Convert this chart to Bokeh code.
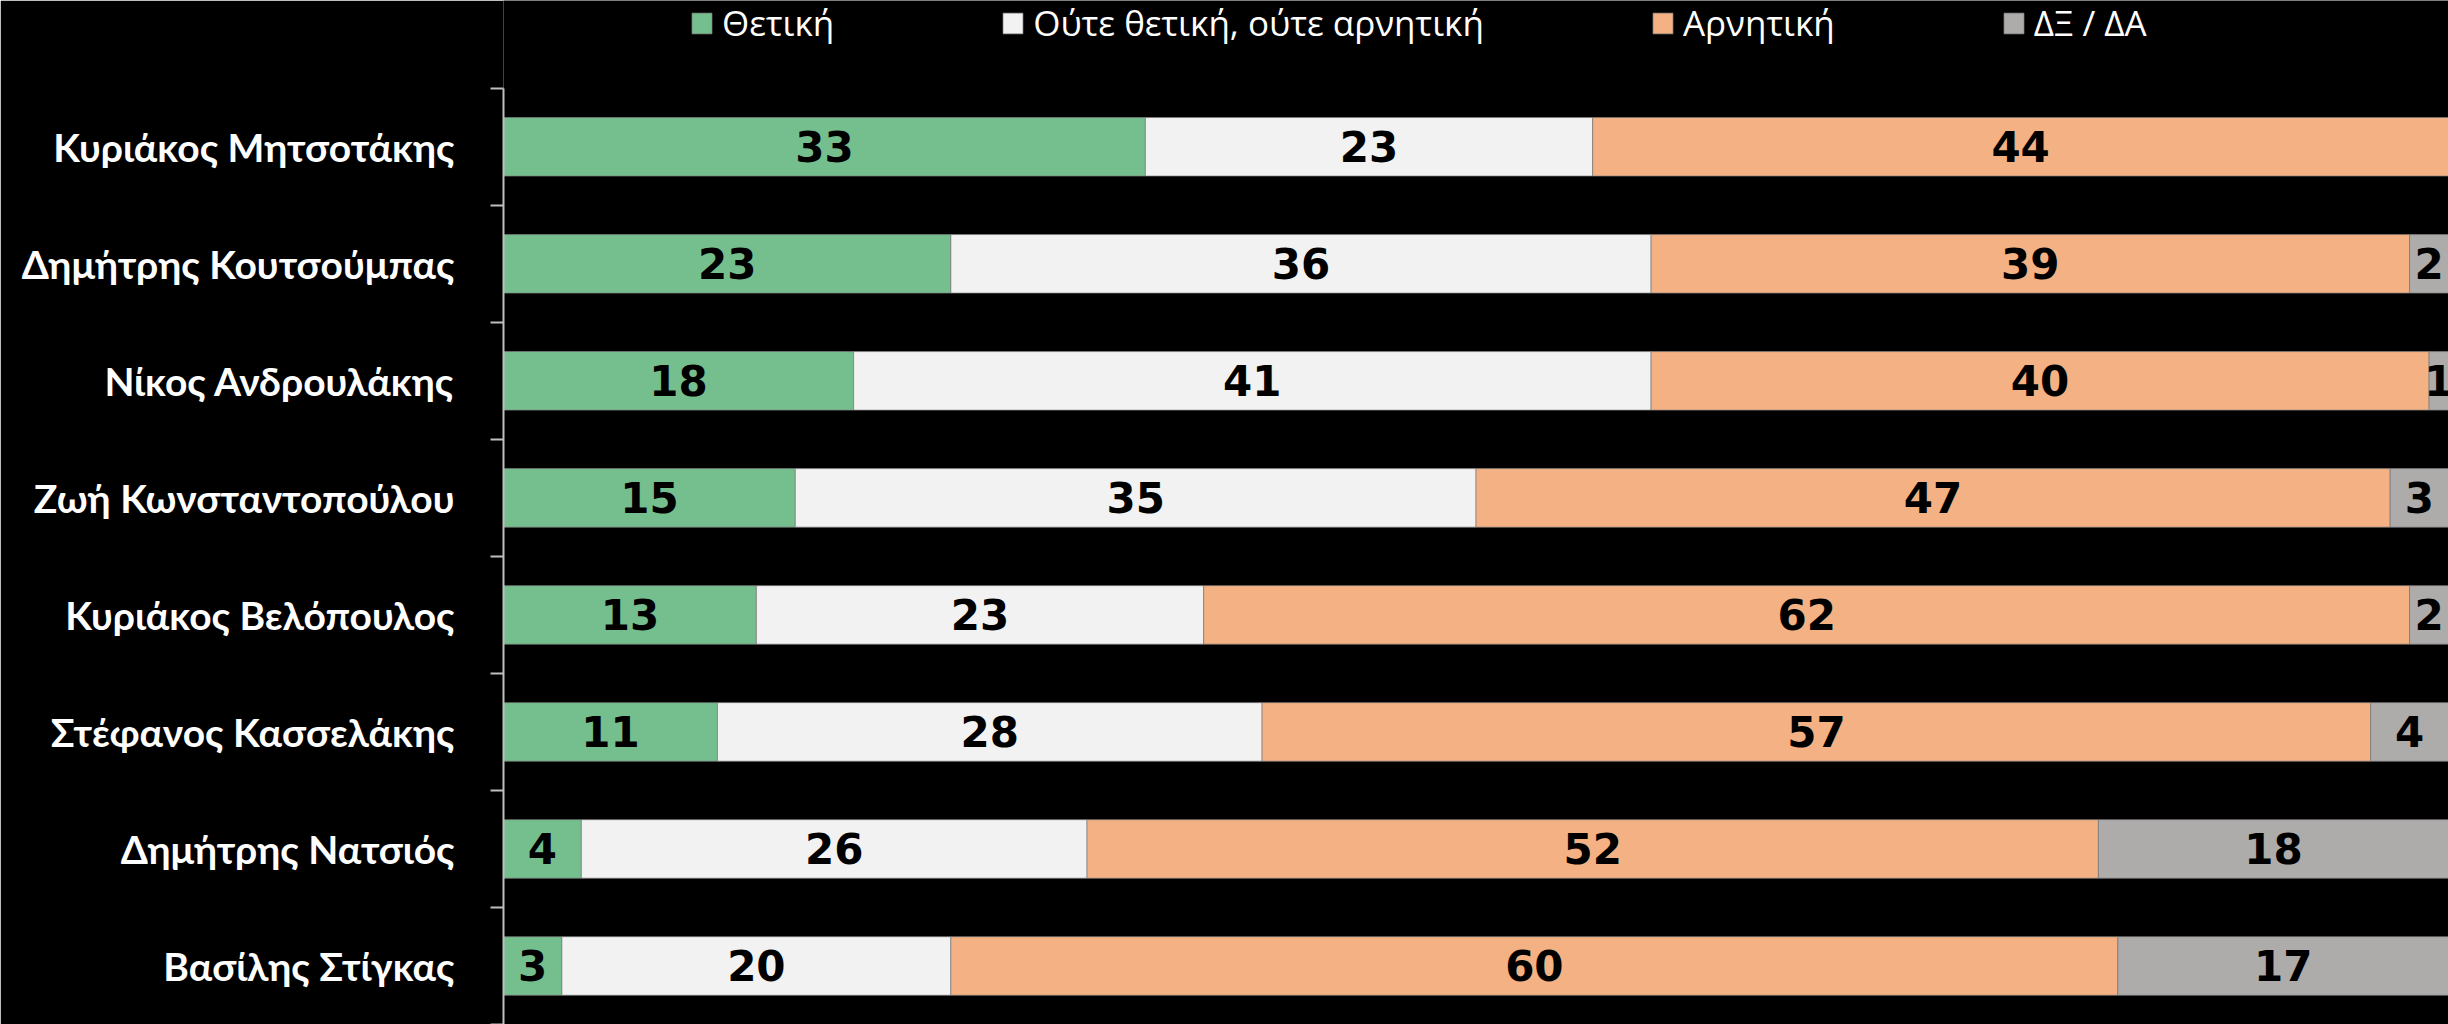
from bokeh.plotting import figure
from bokeh.models import ColumnDataSource, Range1d, FixedTicker, Legend, LegendItem
from bokeh.core.properties import value
from bokeh.embed import file_html
from bokeh.resources import INLINE

categories = ["Κυριάκος Μητσοτάκης", "Δημήτρης Κουτσούμπας", "Νίκος Ανδρουλάκης",
              "Ζωή Κωνσταντοπούλου", "Κυριάκος Βελόπουλος", "Στέφανος Κασσελάκης",
              "Δημήτρης Νατσιός", "Βασίλης Στίγκας"]
positive = [33, 23, 18, 15, 13, 11, 4, 3]
neutral = [23, 36, 41, 35, 23, 28, 26, 20]
negative = [44, 39, 40, 47, 62, 57, 52, 60]
dkna = [0, 2, 1, 3, 2, 4, 18, 17]
series_names = ["Θετική", "Ούτε θετική, ούτε αρνητική", "Αρνητική", "ΔΞ / ΔΑ"]
colors = ["#75BF8E", "#F2F2F2", "#F4B183", "#AEABAB"]

n = len(categories)
ys = [n - 0.5 - i for i in range(n)]
keys = ["pos", "neu", "neg", "dk"]
series = [positive, neutral, negative, dkna]
src = ColumnDataSource(dict(y=ys, pos=positive, neu=neutral, neg=negative, dk=dkna))

p = figure(width=2448, height=1024, output_backend="svg", toolbar_location=None,
           x_range=Range1d(0, 100), y_range=Range1d(0, n + 0.75), x_axis_location=None,
           min_border_left=503, min_border_right=0, min_border_bottom=0, min_border_top=0,
           background_fill_color="black", border_fill_color="black", outline_line_color=None)
p.grid.visible = False

rs = p.hbar_stack(keys, y="y", height=0.5, color=colors, source=src,
                  line_color="#7F7F7F", line_width=1, line_alpha=0.7)

# value labels
lx, ly, lt = [], [], []
for i in range(n):
    left = 0
    for s in series:
        v = s[i]
        if v > 0:
            lx.append(left + v / 2)
            ly.append(ys[i])
            lt.append(str(v))
        left += v
p.text(x="x", y="y", text="t", source=ColumnDataSource(dict(x=lx, y=ly, t=lt)),
       text_align="center", text_baseline="middle", text_font=value("DejaVu Sans"),
       text_font_style="bold", text_font_size="42px", text_color="black")

ax = p.yaxis[0]
ax.bounds = (0, n)
ax.ticker = FixedTicker(ticks=ys, minor_ticks=list(range(n + 1)))
ax.major_label_overrides = {y: c for y, c in zip(ys, categories)}
ax.axis_line_color = "#BFBFBF"
ax.axis_line_width = 2
ax.major_tick_line_color = None
ax.major_tick_out = 0
ax.major_tick_in = 0
ax.minor_tick_line_color = "#BFBFBF"
ax.minor_tick_line_width = 2
ax.minor_tick_out = 13
ax.minor_tick_in = 0
ax.major_label_standoff = 36
ax.major_label_text_color = "white"
ax.major_label_text_font = "Lato"
ax.major_label_text_font_style = "bold"
ax.major_label_text_font_size = "39px"

legend = Legend(items=[LegendItem(label=nm, renderers=[r]) for nm, r in zip(series_names, rs)],
                orientation="horizontal", location=(186, 978),
                background_fill_alpha=0, border_line_color=None,
                label_text_color="white", label_text_font="Open Sans",
                label_text_font_size="35px", glyph_width=25, glyph_height=26,
                label_height=40, spacing=166, label_standoff=8, padding=0, margin=0)
p.add_layout(legend, "center")

open("out.html", "w").write(file_html(p, INLINE))
